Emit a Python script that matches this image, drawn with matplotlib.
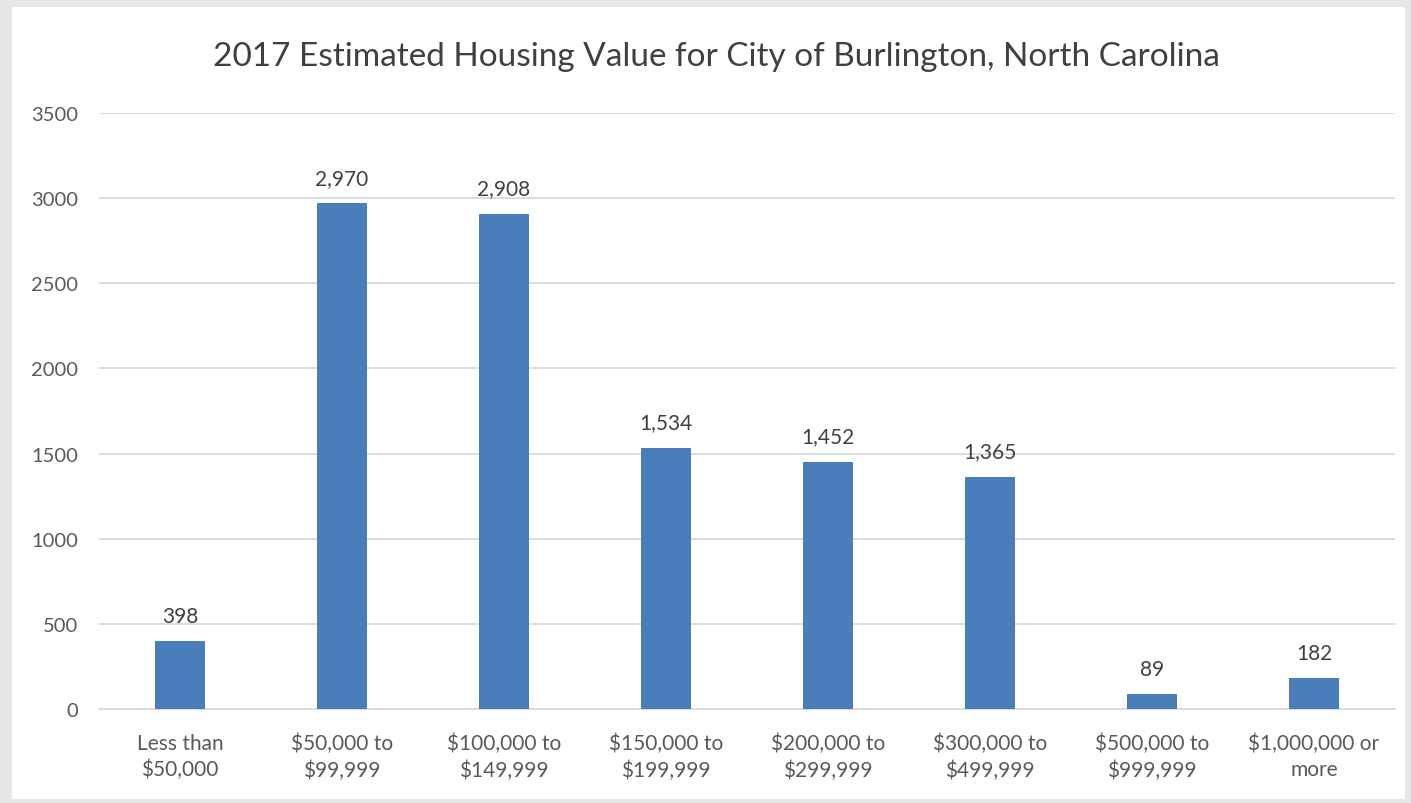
import matplotlib
matplotlib.use("Agg")
import matplotlib.pyplot as plt
from matplotlib.patches import Rectangle

# data
categories = ["Less than\n$50,000", "$50,000 to\n$99,999", "$100,000 to\n$149,999",
              "$150,000 to\n$199,999", "$200,000 to\n$299,999", "$300,000 to\n$499,999",
              "$500,000 to\n$999,999", "$1,000,000 or\nmore"]
values = [398, 2970, 2908, 1534, 1452, 1365, 89, 182]
yticks = [0, 500, 1000, 1500, 2000, 2500, 3000, 3500]

plt.rcParams['font.family'] = ['Lato', 'DejaVu Sans']

W, H = 1411, 804
fig = plt.figure(figsize=(W / 100, H / 100), dpi=100)
fig.patch.set_facecolor('#e7e7e7')
# white chart panel, behind the axes
fig.patches.append(Rectangle((12 / W, 4 / H), (1405 - 12) / W, (796 - 4) / H,
                             transform=fig.transFigure, facecolor='white',
                             edgecolor='none', zorder=-10))

ax = fig.add_axes([99 / W, 1 - 710 / H, (1395 - 99) / W, (710 - 114) / H])
ax.set_facecolor('none')

x = range(len(categories))
bars = ax.bar(x, values, width=0.31, color='#4A7EBB', zorder=3)
for b, v in zip(bars, values):
    ax.annotate(f"{v:,}", (b.get_x() + b.get_width() / 2, v),
                xytext=(0, 11), textcoords='offset points',
                ha='center', va='bottom', fontsize=15, color='#404040')

ax.set_xlim(-0.5, len(categories) - 0.5)
ax.set_ylim(0, 3500)
ax.set_yticks(yticks)
ax.set_yticklabels([str(t) for t in yticks])
ax.set_xticks(list(x))
ax.set_xticklabels(categories, fontsize=15, color='#595959', linespacing=1.4)
ax.tick_params(axis='y', length=0, pad=15, labelsize=14.5, labelcolor='#595959')
ax.tick_params(axis='x', length=0, pad=17)
ax.grid(axis='y', color='#d9d9d9', linewidth=1.3, zorder=0)
for s in ['top', 'right', 'left']:
    ax.spines[s].set_visible(False)
ax.spines['bottom'].set_color('#d9d9d9')
ax.spines['bottom'].set_linewidth(1.3)

fig.text(716 / W, 1 - 57 / H, "2017 Estimated Housing Value for City of Burlington, North Carolina",
         ha='center', va='center', fontsize=24, color='#404040')

fig.savefig('out.png', dpi=100, facecolor=fig.get_facecolor())
